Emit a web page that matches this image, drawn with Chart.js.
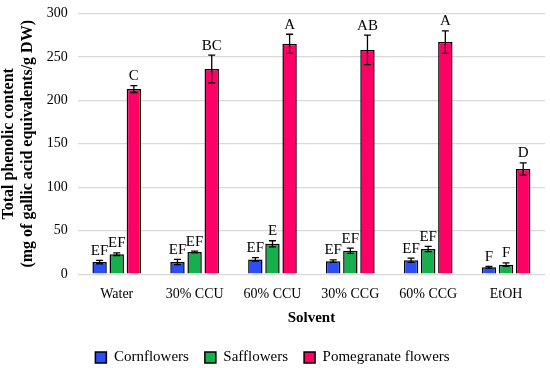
<!DOCTYPE html>
<html>
<head>
<meta charset="utf-8">
<script src="https://cdn.jsdelivr.net/npm/chart.js@4"></script>
<style>
  html, body { margin: 0; padding: 0; background: #fff; overflow: hidden; }
  #wrap { width: 550px; height: 373px; margin-top: -5px; }
</style>
</head>
<body>
<div id="wrap"><canvas id="chart"></canvas></div>
<script>
var solvents = ['Water', '30% CCU', '60% CCU', '30% CCG', '60% CCG', 'EtOH'];
var cornflowers = [14, 14, 17, 15, 16, 8];
var cornflowersErr = [2, 3, 2, 1.5, 2.5, 1];
var cornflowersLetters = ['EF', 'EF', 'EF', 'EF', 'EF', 'F'];
var safflowers = [23, 25.6, 35, 27, 29, 11];
var safflowersErr = [1.5, 1, 3.5, 3, 3, 2];
var safflowersLetters = ['EF', 'EF', 'E', 'EF', 'EF', 'F'];
var pomegranate = [213, 236, 265, 258, 267, 121];
var pomegranateErr = [4, 16, 11, 17, 13, 7];
var pomegranateLetters = ['C', 'BC', 'A', 'AB', 'A', 'D'];
var yTicks = [0, 50, 100, 150, 200, 250, 300];

var serif = "'Liberation Serif', serif";

// error bars + significance letters drawn from the scales
var errorBars = {
    id: 'errorBars',
    afterDatasetsDraw: function(chart) {
        var ctx = chart.ctx;
        var y = chart.scales.y;
        chart.data.datasets.forEach(function(ds, i) {
            var meta = chart.getDatasetMeta(i);
            meta.data.forEach(function(bar, j) {
                var v = ds.data[j], e = ds.err[j];
                var top = y.getPixelForValue(v + e);
                var bot = y.getPixelForValue(v - e);
                ctx.save();
                ctx.strokeStyle = '#000';
                ctx.lineWidth = 1.3;
                ctx.beginPath();
                ctx.moveTo(bar.x, top); ctx.lineTo(bar.x, bot);
                ctx.moveTo(bar.x - 3.5, top); ctx.lineTo(bar.x + 3.5, top);
                ctx.moveTo(bar.x - 3.5, bot); ctx.lineTo(bar.x + 3.5, bot);
                ctx.stroke();
                ctx.fillStyle = '#000';
                ctx.font = '15px ' + serif;
                ctx.textAlign = 'center';
                ctx.textBaseline = 'bottom';
                ctx.fillText(ds.letters[j], bar.x, top - 2);
                ctx.restore();
            });
        });
    }
};

new Chart(document.getElementById('chart').getContext('2d'), {
    type: 'bar',
    data: {
        labels: solvents,
        datasets: [{
            label: 'Cornflowers',
            data: cornflowers,
            err: cornflowersErr,
            letters: cornflowersLetters,
            backgroundColor: '#2b4ff5',
            borderColor: '#000',
            borderWidth: 1.5
        }, {
            label: 'Safflowers',
            data: safflowers,
            err: safflowersErr,
            letters: safflowersLetters,
            backgroundColor: '#14b04c',
            borderColor: '#000',
            borderWidth: 1.5
        }, {
            label: 'Pomegranate flowers',
            data: pomegranate,
            err: pomegranateErr,
            letters: pomegranateLetters,
            backgroundColor: '#ff0066',
            borderColor: '#000',
            borderWidth: 1.5
        }]
    },
    options: {
        responsive: true,
        maintainAspectRatio: false,
        animation: false,
        categoryPercentage: 0.66,
        barPercentage: 0.84,
        layout: { padding: { top: 0, right: 5, left: 0, bottom: -7 } },
        plugins: {
            tooltip: { enabled: false },
            legend: {
                position: 'bottom',
                labels: {
                    color: '#000',
                    font: { family: serif, size: 15 },
                    boxWidth: 11,
                    boxHeight: 11,
                    padding: 16
                }
            }
        },
        scales: {
            x: {
                grid: { display: false },
                border: { display: false },
                ticks: { color: '#000', font: { family: serif, size: 14 }, padding: 4 },
                title: {
                    display: true,
                    text: 'Solvent',
                    color: '#000',
                    font: { family: serif, size: 15, weight: 'bold' },
                    padding: { top: 2, bottom: 7 }
                }
            },
            y: {
                min: 0,
                max: 300,
                afterBuildTicks: function(axis) {
                    axis.ticks = yTicks.map(function(v) { return { value: v }; });
                },
                grid: { color: '#d9d9d9', lineWidth: 1.3, drawTicks: false },
                border: { display: false },
                ticks: { color: '#000', font: { family: serif, size: 14 }, padding: 10 },
                title: {
                    display: true,
                    text: ['Total phenolic content', '(mg of gallic acid equivalents/g DW)'],
                    color: '#000',
                    font: { family: serif, size: 16, weight: 'bold', lineHeight: 1.15 },
                    padding: { top: 0, bottom: 0 }
                }
            }
        }
    },
    plugins: [errorBars]
});
</script>
</body>
</html>
